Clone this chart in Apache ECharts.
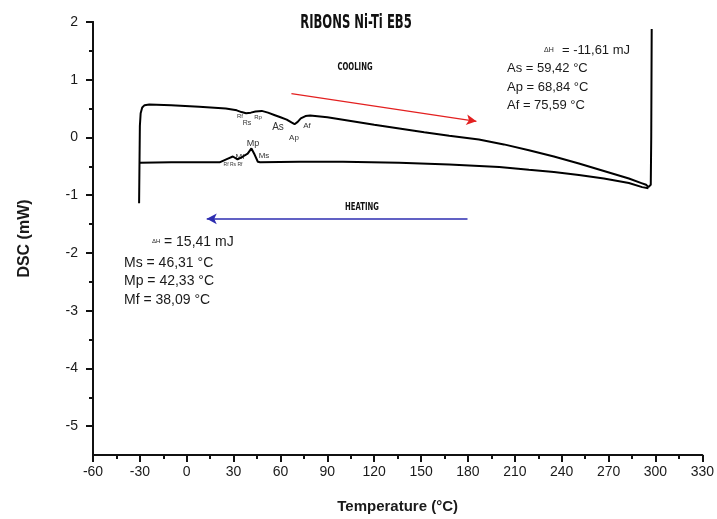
<!DOCTYPE html>
<html>
<head>
<meta charset="utf-8">
<script src="https://cdn.jsdelivr.net/npm/echarts@6/dist/echarts.min.js"></script>
<style>
  html, body { margin: 0; background: #fff; }
  #chart { width: 717px; height: 519px; }
</style>
</head>
<body>
<div id="chart"></div>
<script>
// upper trace (with As / Ap / Af marks) incl. the two vertical ends
const upperTemp = [-30.5, -30.3, -30, -29.5, -28.5, -27, -24, -10, 8, 25, 32, 35, 38, 41, 44, 48, 52, 56, 60, 64, 67, 69, 71, 73, 76, 79, 90, 104, 120, 136, 152, 168, 187, 203, 219, 235, 251, 267, 283, 291, 294, 295.5, 297, 297.3, 297.6];
const upperDsc  = [-1.14, -0.6, 0.2, 0.42, 0.52, 0.56, 0.57, 0.56, 0.53, 0.5, 0.47, 0.44, 0.42, 0.43, 0.45, 0.46, 0.43, 0.39, 0.35, 0.31, 0.26, 0.23, 0.27, 0.33, 0.37, 0.38, 0.35, 0.29, 0.22, 0.155, 0.09, 0.03, -0.035, -0.12, -0.22, -0.33, -0.45, -0.58, -0.71, -0.79, -0.82, -0.86, -0.82, 0, 1.88];

// lower trace (with Ms / Mp / Mf marks)
const lowerTemp = [-30, -10, 8, 21, 26, 29.5, 32.5, 36, 39, 41.4, 43.5, 45.5, 47, 72, 100, 136, 168, 200, 219, 235, 251, 267, 283, 291.5, 295.5];
const lowerDsc  = [-0.44, -0.43, -0.43, -0.43, -0.37, -0.33, -0.38, -0.33, -0.28, -0.19, -0.3, -0.42, -0.43, -0.42, -0.42, -0.44, -0.47, -0.51, -0.56, -0.6, -0.65, -0.71, -0.79, -0.86, -0.88];

// direction arrows [temp, dsc]
const coolingArrow = [[67, 0.76], [185.4, 0.28]];
const heatingArrow = [[179.7, -1.41], [12.8, -1.41]];

const yMajor = [-5, -4, -3, -2, -1, 0, 1, 2];
const yMinor = [-4.5, -3.5, -2.5, -1.5, -0.5, 0.5, 1.5];

const zip = (a, b) => a.map((v, i) => [v, b[i]]);

const TXT = '#1a1a1a';
const txt = (x, y, text, size) => ({
  type: 'text', x: x, y: y, silent: true,
  style: { text: text, font: size + 'px "Liberation Sans", Arial, sans-serif', fill: TXT, verticalAlign: 'middle' }
});
const narrow = (x, y, text, size, sx, sy) => ({
  type: 'text', x: x, y: y, silent: true, scaleX: sx, scaleY: sy,
  style: { text: text, font: 'bold ' + size + 'px "Liberation Sans Narrow", "DejaVu Sans Condensed", sans-serif', fill: '#111', align: 'center', verticalAlign: 'middle' }
});
const small = (x, y, text, size) => ({
  type: 'text', x: x, y: y, silent: true,
  style: { text: text, font: size + 'px "Liberation Sans", Arial, sans-serif', fill: '#333', align: 'center', verticalAlign: 'middle' }
});

const myChart = echarts.init(document.getElementById('chart'));
const yBase = {
  type: 'value',
  min: -5.5,
  max: 2,
  position: 'left',
  splitLine: { show: false },
  axisLine: { show: true, onZero: false, lineStyle: { color: '#111', width: 2 } },
};
const option = {
  animation: false,
  grid: { left: 93, right: 14, top: 22, bottom: 63 },
  xAxis: {
    type: 'value',
    min: -60,
    max: 330,
    interval: 30,
    name: 'Temperature (°C)',
    nameLocation: 'middle',
    nameGap: 44,
    nameTextStyle: { fontFamily: 'Liberation Sans', fontWeight: 'bold', fontSize: 15, color: TXT },
    splitLine: { show: false },
    axisLine: { onZero: false, lineStyle: { color: '#111', width: 2 } },
    axisTick: { length: 7, lineStyle: { color: '#111', width: 2 } },
    minorTick: { show: true, splitNumber: 2, length: 4, lineStyle: { color: '#111', width: 2 } },
    axisLabel: { fontFamily: 'Liberation Sans', fontSize: 14, color: TXT, margin: 10 },
  },
  yAxis: [
    Object.assign({}, yBase, {
      name: 'DSC (mW)',
      nameLocation: 'middle',
      nameGap: 60,
      nameRotate: 90,
      nameTextStyle: { fontFamily: 'Liberation Sans', fontWeight: 'bold', fontSize: 16, color: TXT },
      axisTick: { show: true, length: 7, customValues: yMajor, lineStyle: { color: '#111', width: 2 } },
      axisLabel: { customValues: yMajor, fontFamily: 'Liberation Sans', fontSize: 14, color: TXT, margin: 15 },
    }),
    Object.assign({}, yBase, {
      axisTick: { show: true, length: 4, customValues: yMinor, lineStyle: { color: '#111', width: 2 } },
      axisLabel: { show: false },
    }),
  ],
  series: [
    {
      type: 'line',
      data: zip(upperTemp, upperDsc),
      showSymbol: false,
      lineStyle: { color: '#000', width: 2 },
    },
    {
      type: 'line',
      data: zip(lowerTemp, lowerDsc),
      showSymbol: false,
      lineStyle: { color: '#000', width: 2 },
    },
    {
      type: 'line',
      data: [],
      markLine: {
        silent: true,
        animation: false,
        symbol: ['none', 'arrow'],
        symbolSize: [8, 10],
        label: { show: false },
        data: [
          [{ coord: coolingArrow[0], lineStyle: { color: '#e32020', width: 1.2, type: 'solid' } }, { coord: coolingArrow[1] }],
          [{ coord: heatingArrow[0], lineStyle: { color: '#2d2db0', width: 1.5, type: 'solid' } }, { coord: heatingArrow[1] }],
        ],
      },
    },
  ],
  graphic: [
    narrow(356, 23, 'RIBONS Ni-Ti EB5', 15, 0.86, 1.25),
    narrow(355, 67, 'COOLING', 9, 0.85, 1.15),
    narrow(362, 207, 'HEATING', 9, 0.85, 1.15),
    txt(544, 50, 'ΔH', 7),
    txt(562, 50, '= -11,61 mJ', 13),
    txt(507, 68, 'As = 59,42 °C', 13),
    txt(507, 87, 'Ap = 68,84 °C', 13),
    txt(507, 105, 'Af = 75,59 °C', 13),
    txt(152, 241, 'ΔH', 6),
    txt(164, 242, '= 15,41 mJ', 14),
    txt(124, 263, 'Ms = 46,31 °C', 14),
    txt(124, 281, 'Mp = 42,33 °C', 14),
    txt(124, 300, 'Mf = 38,09 °C', 14),
    small(240, 116, 'Rf', 6),
    small(258, 117, 'Rp', 6),
    small(247, 123, 'Rs', 7),
    small(278, 127, 'As', 10),
    small(294, 138, 'Ap', 8),
    small(307, 126, 'Af', 8),
    small(253, 144, 'Mp', 9),
    small(240, 157, 'Mf', 8),
    small(264, 156, 'Ms', 8),
    small(233, 165, 'Rf Rs Rf', 5),
  ],
};
myChart.setOption(option);
</script>
</body>
</html>
